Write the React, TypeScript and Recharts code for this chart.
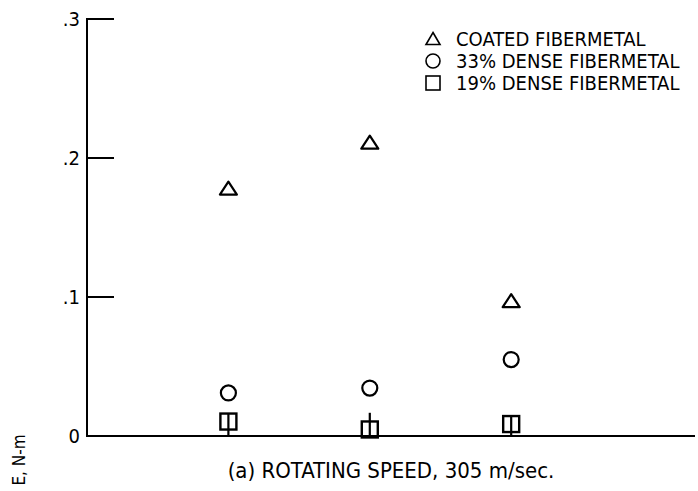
import React from 'react';
import { ScatterChart, Scatter, XAxis, YAxis, ErrorBar } from 'recharts';

const positions = [1, 2, 3];
const coatedValues = [0.178, 0.211, 0.097];
const dense33Values = [0.031, 0.0345, 0.055];
const dense19Values = [0.0104, 0.0047, 0.0086];
const dense19Upper = [0.006, 0.012, 0.006];
const yTicks = [0, 0.1, 0.2, 0.3];
const yTickLabels = ['0', '.1', '.2', '.3'];
const seriesNames = ['COATED FIBERMETAL', '33% DENSE FIBERMETAL', '19% DENSE FIBERMETAL'];
const xLabel = '(a) ROTATING SPEED, 305 m/sec.';
const yLabel = 'E, N-m';

const coated = positions.map((x, i) => ({ x, y: coatedValues[i] }));
const dense33 = positions.map((x, i) => ({ x, y: dense33Values[i] }));
const dense19 = positions.map((x, i) => ({ x, y: dense19Values[i], err: [dense19Values[i], dense19Upper[i]] }));

const FONT = '"DejaVu Sans Condensed", "Liberation Sans Narrow", "DejaVu Sans", sans-serif';

const Triangle = (p: any) => {
  const { cx, cy } = p;
  if (cx == null || cy == null) return null;
  return (
    <polygon
      points={`${cx},${cy - 7} ${cx + 8.5},${cy + 6} ${cx - 8.5},${cy + 6}`}
      fill="none"
      stroke="#000"
      strokeWidth={2.2}
      strokeLinejoin="round"
    />
  );
};

const Circle = (p: any) => {
  const { cx, cy } = p;
  if (cx == null || cy == null) return null;
  return <circle cx={cx} cy={cy} r={7.5} fill="none" stroke="#000" strokeWidth={2.2} />;
};

const Square = (p: any) => {
  const { cx, cy } = p;
  if (cx == null || cy == null) return null;
  return <rect x={cx - 8} y={cy - 8} width={16} height={16} fill="none" stroke="#000" strokeWidth={2.4} />;
};

const YTick = (p: any) => {
  const { x, y, payload, index } = p;
  return (
    <g>
      <text x={x} y={y} dy={7} textAnchor="end" fontSize={20} fontFamily={FONT} fill="#000">
        {yTickLabels[index] ?? payload.value}
      </text>
      <line x1={x + 6} y1={y} x2={x + 34} y2={y} stroke="#000" strokeWidth={2} />
    </g>
  );
};

const LegendIcon = ({ i }: { i: number }) => (
  <svg width={18} height={18} style={{ marginRight: 14, flex: 'none' }}>
    {i === 0 && <polygon points="9,2.5 16,14.5 2,14.5" fill="none" stroke="#000" strokeWidth={1.6} />}
    {i === 1 && <circle cx={9} cy={9} r={7} fill="none" stroke="#000" strokeWidth={1.6} />}
    {i === 2 && <rect x={2} y={2} width={14} height={14} fill="none" stroke="#000" strokeWidth={1.6} />}
  </svg>
);

const YLabel = (p: any) => {
  const vb = p.viewBox || {};
  const x = (vb.x ?? 0) - 8;
  const y = (vb.y ?? 0) + (vb.height ?? 0) + 24;
  return (
    <text x={x} y={y} transform={`rotate(-90 ${x} ${y})`} textAnchor="middle" dy={6} fontSize={17} fontFamily={FONT} fill="#000">
      {yLabel}
    </text>
  );
};

export default function App() {
  return (
    <div style={{ position: 'absolute', left: 0, top: 0, width: 698, height: 491, background: '#fff' }}>
      <ScatterChart width={698} height={491} margin={{ top: 19, right: 3, bottom: 25, left: 27 }}>
        <XAxis
          type="number"
          dataKey="x"
          domain={[0, 4.3]}
          tick={false}
          tickLine={false}
          height={30}
          axisLine={{ stroke: '#000', strokeWidth: 2 }}
          label={{ value: xLabel, position: 'bottom', offset: -4, fontSize: 22, fontFamily: FONT, fill: '#000' }}
        />
        <YAxis
          type="number"
          dataKey="y"
          domain={[0, 0.3]}
          ticks={yTicks}
          width={60}
          tickLine={false}
          tickSize={0}
          tickMargin={7}
          tick={<YTick />}
          axisLine={{ stroke: '#000', strokeWidth: 2 }}
          label={<YLabel />}
        />
        <Scatter name={seriesNames[0]} data={coated} shape={<Triangle />} isAnimationActive={false} />
        <Scatter name={seriesNames[1]} data={dense33} shape={<Circle />} isAnimationActive={false} />
        <Scatter name={seriesNames[2]} data={dense19} shape={<Square />} isAnimationActive={false}>
          <ErrorBar dataKey="err" direction="y" width={0} stroke="#000" strokeWidth={2.2} isAnimationActive={false} />
        </Scatter>
      </ScatterChart>
      <div
        style={{
          position: 'absolute',
          top: 28,
          left: 424,
          fontFamily: FONT,
          fontSize: 20,
          color: '#000',
          lineHeight: '22px',
        }}
      >
        {seriesNames.map((n, i) => (
          <div key={n} style={{ display: 'flex', alignItems: 'center', height: 22 }}>
            <LegendIcon i={i} />
            <span style={{ whiteSpace: 'nowrap' }}>{n}</span>
          </div>
        ))}
      </div>
    </div>
  );
}
